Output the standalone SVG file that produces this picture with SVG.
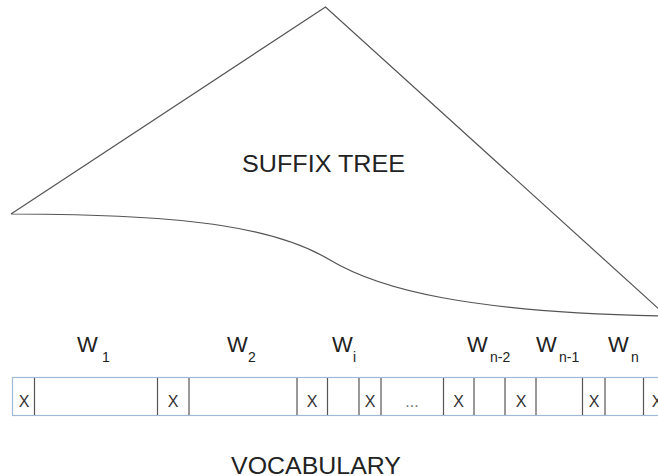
<svg xmlns="http://www.w3.org/2000/svg" width="658" height="476" viewBox="0 0 658 476">
<style>
.edge{fill:none;stroke:#555;stroke-width:1.2}
.w{font-family:"Liberation Sans",Arial,sans-serif;font-size:22px;fill:#222}
.sub{font-family:"Liberation Sans",Arial,sans-serif;font-size:14px;fill:#222}
.x{font-family:"Liberation Sans",Arial,sans-serif;font-size:16px;fill:#333;text-anchor:middle}
.div{stroke:#555;stroke-width:1.2}
.title{font-family:"Liberation Sans",Arial,sans-serif;font-size:23px;fill:#222}
</style>
<rect width="658" height="476" fill="#fff"/>
<g id="suffix-tree">
<path class="edge" d="M11,214 L325.5,7 L660,310 M11,214 C200,214 280,230 330,260 C380,290 470,312 660,316" fill="#fff"/>
<text class="title" x="242" y="172" textLength="163" lengthAdjust="spacingAndGlyphs">SUFFIX TREE</text>
</g>
<g id="labels">
<text class="w" x="77" y="352">W</text><text class="sub" x="102" y="362">1</text>
<text class="w" x="227" y="352">W</text><text class="sub" x="248" y="362">2</text>
<text class="w" x="332" y="352">W</text><text class="sub" x="353" y="362">i</text>
<text class="w" x="467" y="352">W</text><text class="sub" x="490" y="362">n-2</text>
<text class="w" x="536" y="352">W</text><text class="sub" x="559" y="362">n-1</text>
<text class="w" x="608" y="352">W</text><text class="sub" x="631" y="362">n</text>
</g>
<g id="vocabulary">
<rect x="12.5" y="377.5" width="660" height="38" fill="#fff" stroke="#9fb9d8" stroke-width="1.2"/>
<g class="div">
<line x1="34.5" y1="378" x2="34.5" y2="415"/>
<line x1="157.5" y1="378" x2="157.5" y2="415"/>
<line x1="189" y1="378" x2="189" y2="415"/>
<line x1="297" y1="378" x2="297" y2="415"/>
<line x1="327.5" y1="378" x2="327.5" y2="415"/>
<line x1="359" y1="378" x2="359" y2="415"/>
<line x1="381" y1="378" x2="381" y2="415"/>
<line x1="443.5" y1="378" x2="443.5" y2="415"/>
<line x1="474" y1="378" x2="474" y2="415"/>
<line x1="505" y1="378" x2="505" y2="415"/>
<line x1="536" y1="378" x2="536" y2="415"/>
<line x1="582.5" y1="378" x2="582.5" y2="415"/>
<line x1="605" y1="378" x2="605" y2="415"/>
<line x1="643.5" y1="378" x2="643.5" y2="415"/>
</g>
<text class="x" x="24" y="407">X</text>
<text class="x" x="173" y="407">X</text>
<text class="x" x="312" y="407">X</text>
<text class="x" x="370" y="407">X</text>
<text class="x" x="412" y="407" style="fill:#777">...</text>
<text class="x" x="458.5" y="407">X</text>
<text class="x" x="521" y="407">X</text>
<text class="x" x="594" y="407">X</text>
<text class="x" x="657" y="407">X</text>
<text class="title" x="231" y="474" textLength="170" lengthAdjust="spacingAndGlyphs">VOCABULARY</text>
</g>
</svg>
